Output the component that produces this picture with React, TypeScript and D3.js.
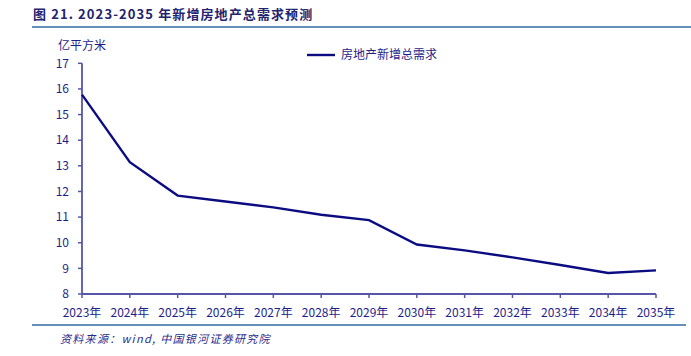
import React from "react";
import * as d3 from "d3";

const years = ["2023年","2024年","2025年","2026年","2027年","2028年","2029年","2030年","2031年","2032年","2033年","2034年","2035年"];
const demand = [15.78, 13.14, 11.84, 11.61, 11.38, 11.09, 10.88, 9.93, 9.70, 9.43, 9.13, 8.82, 8.92];
const yTicks = [8, 9, 10, 11, 12, 13, 14, 15, 16, 17];
const title = "图 21. 2023-2035 年新增房地产总需求预测";
const unit = "亿平方米";
const seriesName = "房地产新增总需求";
const source = "资料来源：wind, 中国银河证券研究院";

export default function App() {
  const W = 691, H = 356;
  const left = 82, right = 656, top = 63.3, bottom = 294;
  const x = d3.scalePoint<string>().domain(years).range([left, right]);
  const y = d3.scaleLinear().domain([8, 17]).range([bottom, top]);
  const line = d3.line<number>().x((_, i) => x(years[i])!).y(d => y(d));
  const axisColor = "#5656a8";
  const textColor = "#1e1e8a";
  const font = "'Noto Sans CJK SC', 'Noto Sans', sans-serif";
  return (
    <svg width={W} height={H} style={{ position: "absolute", left: 0, top: 0, background: "#fff" }}>
      <text x={33} y={19} fontFamily={font} fontWeight="bold" fontSize={13} letterSpacing={1.1} fill="#23236e">{title}</text>
      <line x1={32} x2={691} y1={27} y2={27} stroke="#2f6aa3" strokeWidth={1.5} />
      <text x={58} y={50} fontFamily={font} fontSize={12} fill={textColor}>{unit}</text>
      {yTicks.map(t => (
        <g key={t}>
          <line x1={left - 4} x2={left} y1={y(t)} y2={y(t)} stroke={axisColor} strokeWidth={1.5} />
          <text x={69} y={y(t)} dy="0.35em" textAnchor="end" fontFamily={font} fontSize={12} fill={textColor}>{t}</text>
        </g>
      ))}
      {years.map(yr => (
        <g key={yr}>
          <line x1={x(yr)} x2={x(yr)} y1={bottom} y2={bottom + 4} stroke={axisColor} strokeWidth={1.5} />
          <text x={x(yr)} y={317} textAnchor="middle" fontFamily={font} fontSize={12} fill={textColor}>{yr}</text>
        </g>
      ))}
      <line x1={left} x2={left} y1={top} y2={bottom} stroke={axisColor} strokeWidth={1.8} />
      <line x1={left} x2={right} y1={bottom} y2={bottom} stroke={axisColor} strokeWidth={1.8} />
      <path d={line(demand)!} fill="none" stroke="#0c0c82" strokeWidth={2.4} />
      <line x1={307} x2={335} y1={55} y2={55} stroke="#0c0c82" strokeWidth={2.4} />
      <text x={341} y={55} dy="0.35em" fontFamily={font} fontSize={12} fill={textColor}>{seriesName}</text>
      <line x1={32} x2={686} y1={325} y2={325} stroke="#2f6aa3" strokeWidth={1.5} />
      <text x={60} y={343} fontFamily={font} fontStyle="italic" fontSize={11} letterSpacing={1.3} fill="#2a2a8a">{source}</text>
    </svg>
  );
}
